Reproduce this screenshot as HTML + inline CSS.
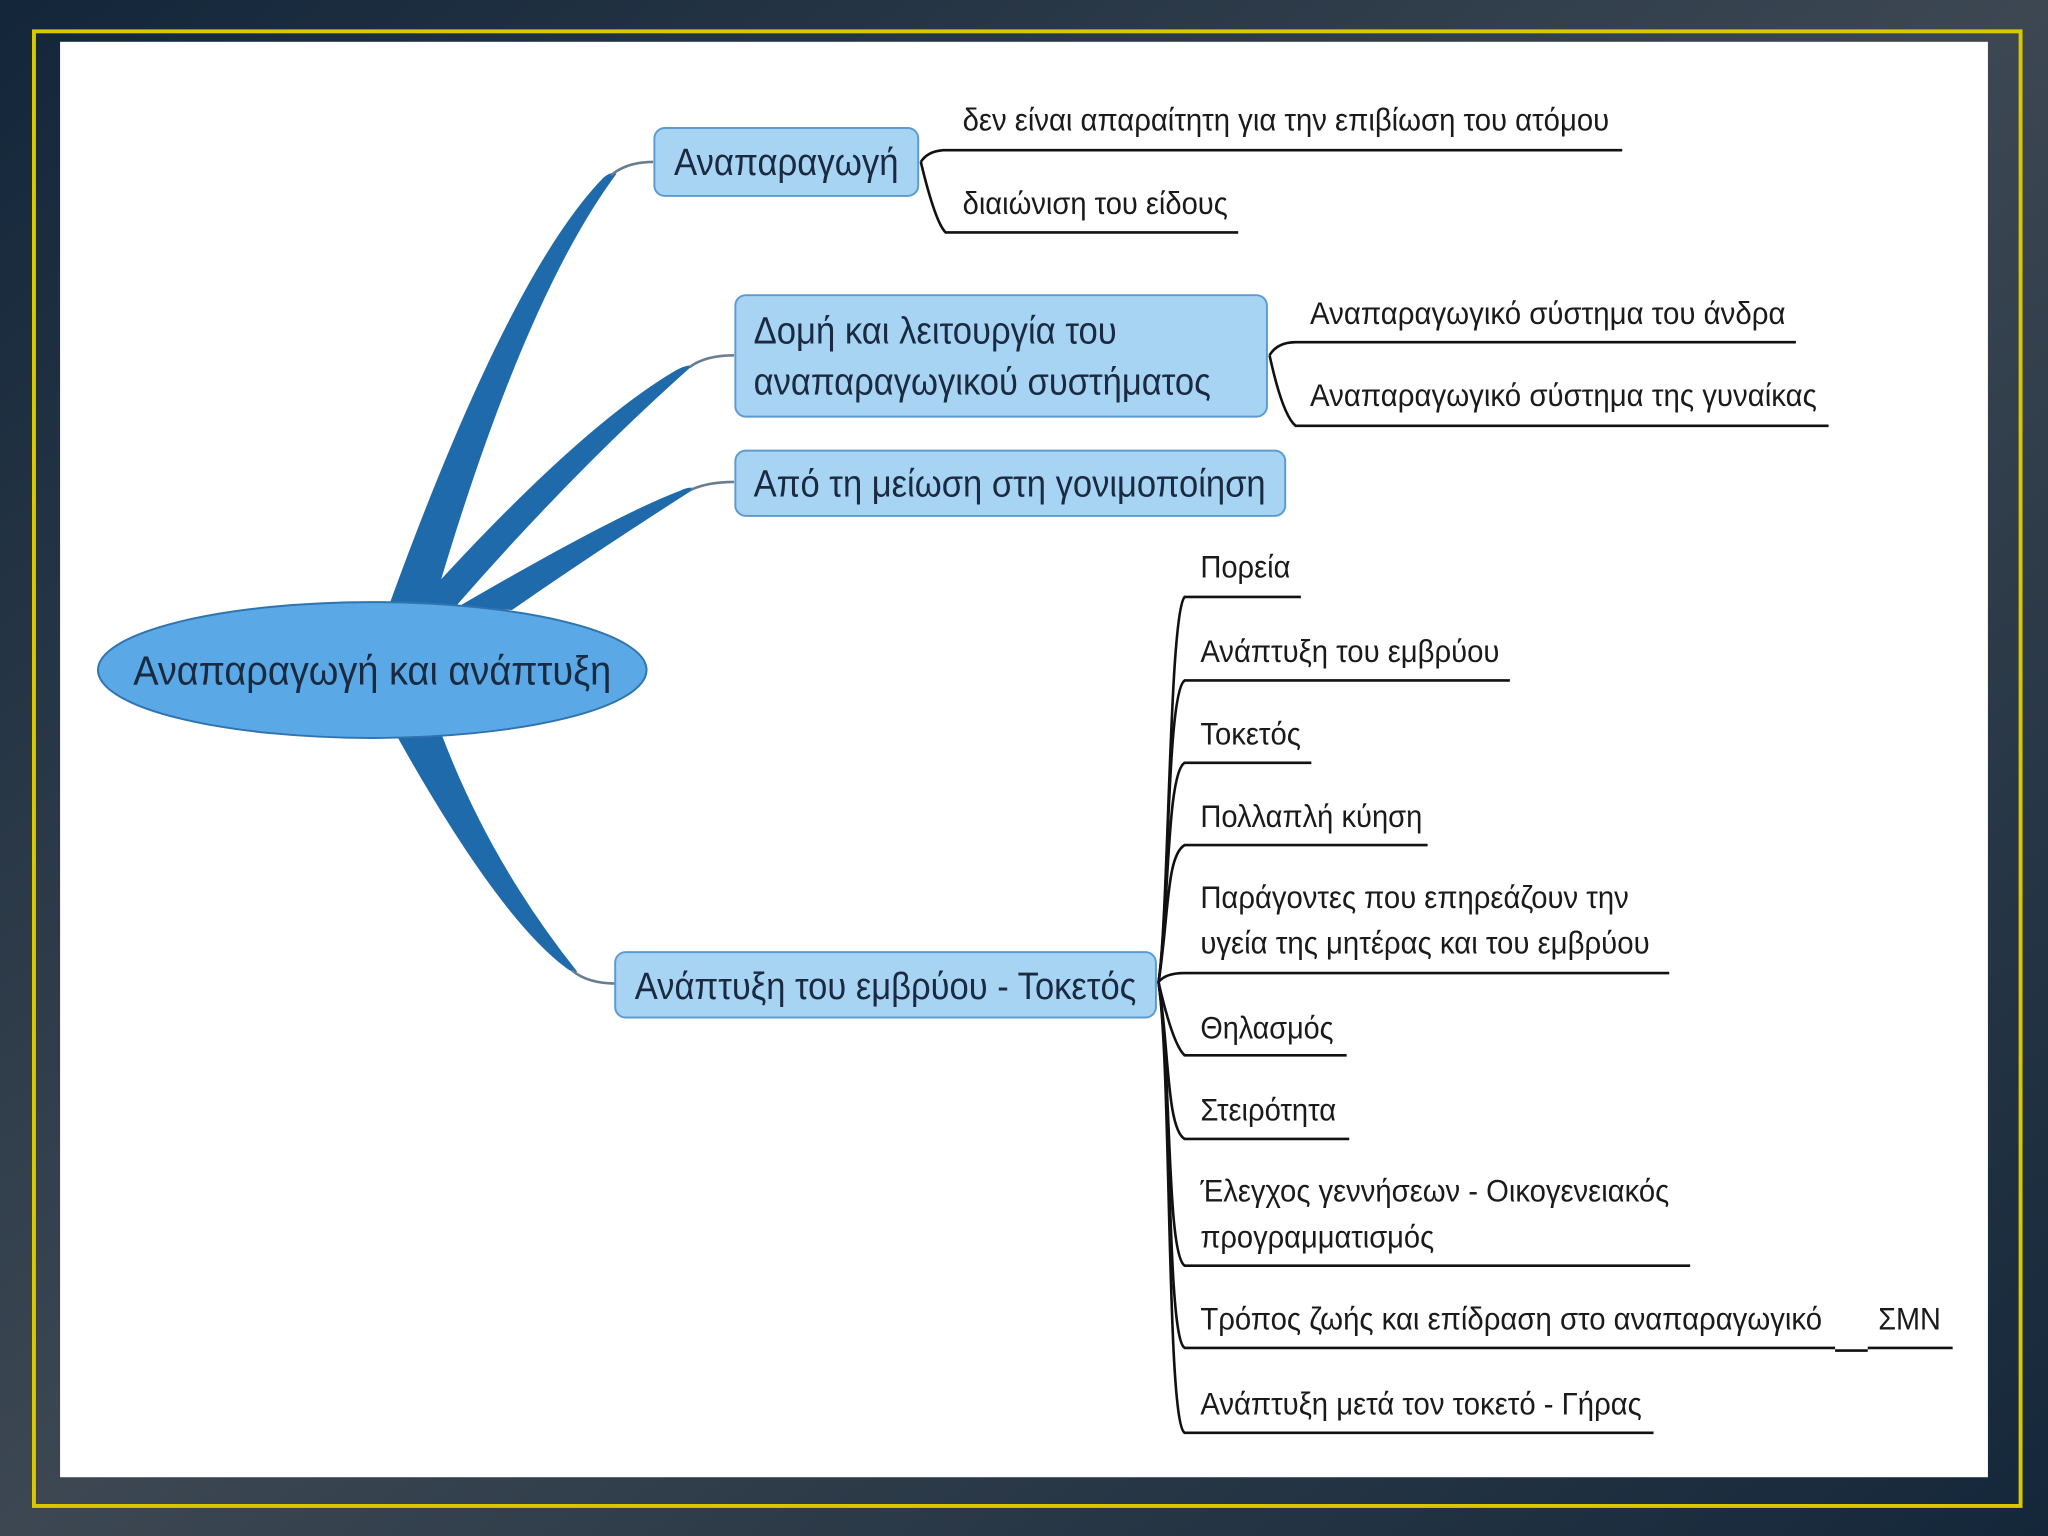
<!DOCTYPE html>
<html><head><meta charset="utf-8"><style>
html,body{margin:0;padding:0;width:2048px;height:1536px;overflow:hidden;background:#1e2d3c}
svg{display:block}
text{font-family:"Liberation Sans","DejaVu Sans",sans-serif}
</style></head><body>
<svg width="2048" height="1536" viewBox="0 0 1568 1176" xmlns="http://www.w3.org/2000/svg">
<defs>
<linearGradient id="bg" x1="0" y1="0" x2="1" y2="1">
<stop offset="0" stop-color="#13263a"/><stop offset="0.5" stop-color="#3c4752"/><stop offset="1" stop-color="#14273a"/>
</linearGradient>
</defs>
<rect width="1568" height="1176" fill="url(#bg)"/>
<rect x="26" y="24" width="1521" height="1129" fill="none" stroke="#d8c800" stroke-width="3"/>
<rect x="46" y="32" width="1476" height="1099" fill="#ffffff"/>

<!-- thick branches -->
<g fill="#1f6aab">
<path d="M298,463 Q390,210 462,136 Q468,131 472,133 Q400,230 332,463 Z"/>
<path d="M320,463 Q440,330 515,285 Q525,279 530,280 Q440,360 350,463 Z"/>
<path d="M350,465 Q470,395 520,376 Q528,372 532,374 Q460,420 392,467 Z"/>
<path d="M303,562 Q380,700 432,740 Q438,745 442,744 Q375,660 338,562 Z"/>
</g>
<g fill="none" stroke="#6a7d90" stroke-width="2">
<path d="M468,134 Q480,124 500,124"/>
<path d="M528,281 Q540,272 562,272"/>
<path d="M529,375 Q542,369 562,369"/>
<path d="M438,743 Q450,753 472,753"/>
</g>

<!-- central ellipse -->
<ellipse cx="285" cy="513" rx="210" ry="52" fill="#5aa9e6" stroke="#2f74b0" stroke-width="1.5"/>
<text x="102" y="524" font-size="31" fill="#1a2a40" textLength="366" lengthAdjust="spacingAndGlyphs">Αναπαραγωγή και ανάπτυξη</text>

<!-- boxes -->
<g fill="#a8d4f4" stroke="#5c9bd0" stroke-width="1.5">
<rect x="501" y="98" width="202" height="52" rx="8"/>
<rect x="563" y="226" width="407" height="93" rx="8"/>
<rect x="563" y="345" width="421" height="50" rx="8"/>
<rect x="471" y="729" width="414" height="50" rx="8"/>
</g>
<g font-size="29" fill="#1a2a40">
<text x="516" y="134" textLength="172" lengthAdjust="spacingAndGlyphs">Αναπαραγωγή</text>
<text x="577" y="263" textLength="278" lengthAdjust="spacingAndGlyphs">Δομή και λειτουργία του</text>
<text x="577" y="302" textLength="350" lengthAdjust="spacingAndGlyphs">αναπαραγωγικού συστήματος</text>
<text x="577" y="380" textLength="392" lengthAdjust="spacingAndGlyphs">Από τη μείωση στη γονιμοποίηση</text>
<text x="486" y="765" textLength="384" lengthAdjust="spacingAndGlyphs">Ανάπτυξη του εμβρύου - Τοκετός</text>
</g>

<!-- thin connectors -->
<g fill="none" stroke="#111" stroke-width="2">
<path d="M705,124 Q710,116 722,115 L1242,115"/>
<path d="M705,124 Q716,170 724,178 L948,178"/>
<path d="M972,272 Q978,262 992,262 L1375,262"/>
<path d="M972,272 Q982,318 992,326 L1400,326"/>
<path d="M887,752 C895,700 895,470 907,457 L996,457"/>
<path d="M887,752 C895,700 893,530 907,521 L1156,521"/>
<path d="M887,752 C895,700 893,592 907,584 L1004,584"/>
<path d="M887,752 C895,700 893,655 907,647 L1093,647"/>
<path d="M887,752 Q892,745 907,745 L1278,745"/>
<path d="M887,752 Q898,800 907,808 L1031,808"/>
<path d="M887,752 C895,800 893,864 907,872 L1033,872"/>
<path d="M887,752 C897,820 893,960 907,969 L1294,969"/>
<path d="M887,752 C897,820 893,1024 907,1032 L1405,1032 M1405,1034 L1430,1034 M1430,1032 L1495,1032"/>
<path d="M887,752 C897,820 893,1089 907,1097 L1266,1097"/>
</g>

<!-- leaf texts -->
<g font-size="24" fill="#1a1a1a">
<text x="737" y="100" textLength="495" lengthAdjust="spacingAndGlyphs">δεν είναι απαραίτητη για την επιβίωση του ατόμου</text>
<text x="737" y="164" textLength="203" lengthAdjust="spacingAndGlyphs">διαιώνιση του είδους</text>
<text x="1003" y="248" textLength="364" lengthAdjust="spacingAndGlyphs">Αναπαραγωγικό σύστημα του άνδρα</text>
<text x="1003" y="311" textLength="388" lengthAdjust="spacingAndGlyphs">Αναπαραγωγικό σύστημα της γυναίκας</text>
<text x="919" y="442" textLength="69" lengthAdjust="spacingAndGlyphs">Πορεία</text>
<text x="919" y="507" textLength="229" lengthAdjust="spacingAndGlyphs">Ανάπτυξη του εμβρύου</text>
<text x="919" y="570" textLength="77" lengthAdjust="spacingAndGlyphs">Τοκετός</text>
<text x="919" y="633" textLength="170" lengthAdjust="spacingAndGlyphs">Πολλαπλή κύηση</text>
<text x="919" y="695" textLength="328" lengthAdjust="spacingAndGlyphs">Παράγοντες που επηρεάζουν την</text>
<text x="919" y="730" textLength="344" lengthAdjust="spacingAndGlyphs">υγεία της μητέρας και του εμβρύου</text>
<text x="919" y="795" textLength="102" lengthAdjust="spacingAndGlyphs">Θηλασμός</text>
<text x="919" y="858" textLength="104" lengthAdjust="spacingAndGlyphs">Στειρότητα</text>
<text x="919" y="920" textLength="359" lengthAdjust="spacingAndGlyphs">Έλεγχος γεννήσεων - Οικογενειακός</text>
<text x="919" y="955" textLength="179" lengthAdjust="spacingAndGlyphs">προγραμματισμός</text>
<text x="919" y="1018" textLength="476" lengthAdjust="spacingAndGlyphs">Τρόπος ζωής και επίδραση στο αναπαραγωγικό</text>
<text x="1438" y="1018" textLength="48" lengthAdjust="spacingAndGlyphs">ΣΜΝ</text>
<text x="919" y="1083" textLength="338" lengthAdjust="spacingAndGlyphs">Ανάπτυξη μετά τον τοκετό - Γήρας</text>
</g>
</svg>
</body></html>
